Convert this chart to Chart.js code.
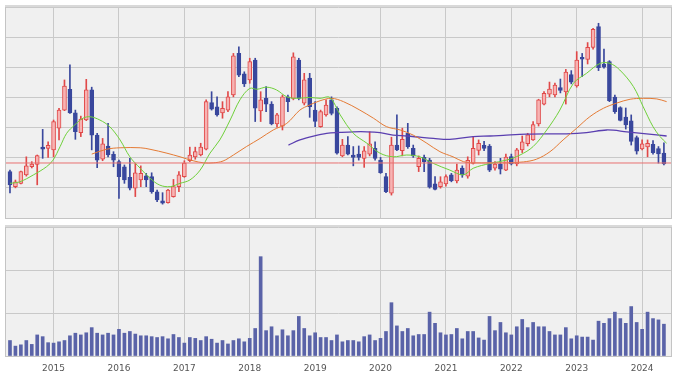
<!DOCTYPE html>
<html><head><meta charset="utf-8">
<script src="https://cdn.jsdelivr.net/npm/chart.js@4.4.1/dist/chart.umd.min.js"></script>
<style>
html,body{margin:0;padding:0;background:#fff;overflow:hidden;width:679px;height:376px}
#wrap{position:relative;width:679px;height:376px}
canvas{position:absolute;left:0}
</style></head><body>
<div id="wrap">
<canvas id="price" width="679" height="222" style="top:0;width:679px;height:222px"></canvas>
<canvas id="vol" width="679" height="154" style="top:222px;width:679px;height:154px"></canvas>
</div>
<script>
// Monthly candles, May 2014 .. May 2024
const startYear = 2014, startMonth = 5;
const opens = [154,104,115,143,170,178,235,231,226,298,358,427,349,283,325,425,275,195,239,211,
187,170,135,99,126,140,137,87,57,51,71,104,137,190,203,209,228,383,369,349,
358,408,546,478,458,524,355,397,378,312,305,402,397,524,381,464,358,303,342,392,
364,206,242,209,212,198,212,231,192,137,82,242,223,281,231,170,201,192,113,104,
113,143,123,166,139,181,224,241,239,165,179,159,204,179,226,247,259,312,378,411,
408,433,418,476,438,533,526,566,635,511,519,401,366,335,322,267,229,236,244,230,215];
const highs = [159,126,156,203,187,209,294,253,325,364,458,508,358,338,460,434,281,264,314,220,
192,176,198,182,173,148,150,93,84,95,128,154,190,235,235,248,392,419,402,386,
419,546,568,485,530,530,419,436,386,347,408,408,548,530,480,480,386,358,392,402,
369,261,270,237,239,237,286,253,201,148,268,342,298,314,242,206,209,198,137,137,
143,148,179,173,203,270,259,254,244,187,198,212,212,231,272,281,320,394,419,451,
448,461,493,489,552,546,582,629,646,560,522,408,369,365,342,272,259,259,257,237,249];
const lows = [83,100,113,139,166,110,198,201,203,259,356,347,261,270,323,226,167,190,203,170,
65,115,93,71,104,104,82,54,46,49,69,87,135,187,195,206,226,358,338,331,
353,402,469,436,447,320,320,353,309,301,292,353,392,392,375,334,303,301,338,342,
212,203,209,173,192,168,206,192,148,84,76,223,206,231,201,154,154,99,93,99,
106,120,116,135,132,179,209,223,154,159,146,157,176,173,217,239,257,305,375,402,
402,415,378,445,434,469,511,560,489,497,386,347,322,295,242,212,226,203,212,182,176];
const closes = [110,120,154,173,179,207,228,241,320,358,438,349,286,328,425,275,192,246,209,192,
137,126,99,150,148,126,87,60,49,93,104,143,182,209,220,235,386,361,342,364,
402,538,474,445,519,364,392,378,312,342,402,386,535,397,458,369,320,353,375,347,
215,242,212,201,201,223,246,198,150,87,242,226,261,237,206,198,187,102,95,120,
137,124,159,143,191,231,248,231,159,179,162,202,179,226,253,276,310,392,414,428,
441,423,484,451,524,527,566,626,499,500,389,353,324,309,254,222,246,248,217,213,179];
const volumes = [36,23,26,36,27,49,45,31,30,33,36,47,53,49,54,66,53,49,53,49,
62,53,57,51,47,47,45,43,45,40,50,43,30,43,41,36,45,39,30,36,
28,36,40,33,41,64,231,59,68,47,61,47,59,92,64,47,54,43,43,36,
49,33,36,36,33,45,49,36,41,57,124,70,57,64,47,50,50,102,76,54,
49,50,64,40,57,57,42,37,92,59,78,54,49,68,85,66,78,68,68,57,
49,49,66,40,47,44,44,37,81,76,87,102,87,76,115,78,62,102,87,84,74];
// moving average lines (x = month index)
const maShortX = [0,1.8,4.3,6.7,7.9,9.2,10.4,11.9,13.4,14.7,16.5,18.3,20.2,22,23.9,25.7,27.5,29.4,31.2,33,34.9,36.7,38.5,40.4,42.2,44,45.3,47.1,48.9,50.8,52.6,55,56.9,58.7,60.6,63,65.5,67.9,70.3,72.8,75.2,77.7,80.7,83.2,85,88.1,91.1,93.6,96,98.5,100.9,103.4,105.8,108.3,110.1,111.9,114.4,116.2,118,119.3,120.5];
const maShortY = [115,120,143,170,192,237,281,309,331,336,325,303,259,203,165,132,109,104,115,126,159,215,259,325,392,430,427,434,425,402,397,400,397,400,342,281,248,215,203,209,203,181,159,143,165,181,192,209,237,292,358,447,480,513,513,491,436,369,303,270,248];
const maMidX = [15,17.7,20.2,23.9,25.7,28.8,31.2,33.6,35.5,37.3,39.1,41,43.4,45.9,48.3,50.8,53.2,55,56.9,59,61.2,64.2,66.7,69.1,71.6,74,76.5,78.9,81.3,83.2,85,88.1,91.1,94.2,96.6,99.1,101.5,104,106.4,108.9,111.3,113.8,116.2,118.7,120.5];
const maMidY = [212,228,233,233,228,215,203,190,183,183,189,209,237,264,292,314,358,375,389,397,386,358,331,303,292,275,248,220,203,187,183,183,183,186,195,220,259,298,336,364,381,394,397,395,386];
const maLongX = [51.1,53.2,55.7,58.1,60.6,63,65.5,67.9,70.3,72.8,75.2,77.7,80.7,85,88.1,91.1,94.8,98.5,102.1,105.8,109.5,113.2,116.8,120.5];
const maLongY = [242,259,272,281,284,286,286,283,275,272,268,264,261,270,272,275,278,279,279,283,292,286,279,272];
const refLevel = 182.5;
const yearLabels = ['2015','2016','2017','2018','2019','2020','2021','2022','2023','2024'];

// month labels and year tick positions
const months = opens.map((_, i) => {
  const m = startMonth - 1 + i;
  return (startYear + Math.floor(m / 12)) + '-' + String(m % 12 + 1).padStart(2, '0');
});
const yearTickIdx = yearLabels.map(y => months.indexOf(y + '-01'));

const RED = '#e04848', PINK = '#f7b3b3', BLUE = '#39479d', VOL = '#5a63a8', GRID = '#c9c9c9';
const idx = opens.map((_, i) => i);
const isUp = i => closes[i] >= opens[i];
const XMIN = -0.73, XMAX = 121.3;

const panelPlugin = {
  id: 'panelPlugin',
  beforeDraw(chart) {
    const { ctx, chartArea: a } = chart;
    ctx.save();
    ctx.fillStyle = '#f0f0f0';
    ctx.fillRect(a.left, a.top, a.right - a.left, a.bottom - a.top);
    ctx.restore();
  },
  afterDraw(chart) {
    const { ctx, chartArea: a } = chart;
    ctx.save();
    ctx.strokeStyle = '#c4c4c4';
    ctx.lineWidth = 1;
    ctx.strokeRect(Math.round(a.left) - 0.5, Math.round(a.top) - 0.5, Math.round(a.right - a.left) + 1, Math.round(a.bottom - a.top) + 1);
    ctx.fillStyle = '#d9d9d9';
    ctx.fillRect(Math.round(a.left) - 1, Math.round(a.top) - 2, Math.round(a.right - a.left) + 2, 2);
    ctx.restore();
  }
};

function xScale(showLabels) {
  return {
    type: 'linear', min: XMIN, max: XMAX, offset: false,
    grid: { color: GRID, drawTicks: false, lineWidth: 1, offset: false },
    border: { display: false },
    afterBuildTicks: s => { s.ticks = yearTickIdx.map(v => ({ value: v })); },
    ticks: {
      display: showLabels, autoSkip: false, maxRotation: 0, padding: 7,
      color: '#555', font: { family: 'DejaVu Sans', size: 9 },
      callback: v => yearLabels[yearTickIdx.indexOf(v)]
    },
    afterFit: s => { s.height = showLabels ? 20 : 0; }
  };
}

new Chart(document.getElementById('price'), {
  type: 'bar',
  data: {
    datasets: [
      { type: 'line', data: [{ x: XMIN, y: refLevel }, { x: XMAX, y: refLevel }], borderColor: '#e87070', borderWidth: 1, pointRadius: 0, order: 0 },
      { type: 'line', data: maShortX.map((x, k) => ({ x, y: maShortY[k] })), borderColor: '#6fd03a', borderWidth: 1, pointRadius: 0, tension: 0.35, order: 0 },
      { type: 'line', data: maMidX.map((x, k) => ({ x, y: maMidY[k] })), borderColor: '#e57b35', borderWidth: 1, pointRadius: 0, tension: 0.35, order: 0 },
      { type: 'line', data: maLongX.map((x, k) => ({ x, y: maLongY[k] })), borderColor: '#5a3fb0', borderWidth: 1.3, pointRadius: 0, tension: 0.35, order: 0 },
      { data: idx.map(i => ({ x: i, y: [opens[i], closes[i]] })), barThickness: 4, grouped: false,
        backgroundColor: c => isUp(c.dataIndex) ? PINK : BLUE,
        borderColor: c => isUp(c.dataIndex) ? RED : BLUE,
        borderWidth: 1, borderSkipped: false, order: 1 },
      { data: idx.map(i => ({ x: i, y: [lows[i], highs[i]] })), barThickness: 1, grouped: false,
        backgroundColor: c => isUp(c.dataIndex) ? RED : BLUE, borderWidth: 0, order: 2 }
    ]
  },
  options: {
    responsive: false, animation: false, devicePixelRatio: 1,
    layout: { padding: { left: 6, right: 8, top: 7, bottom: 4 } },
    plugins: { legend: { display: false }, tooltip: { enabled: false } },
    scales: {
      x: xScale(false),
      y: { min: 0, max: 700, ticks: { stepSize: 100, display: false }, grid: { color: GRID, drawTicks: false },
           border: { display: false }, afterFit: s => { s.width = 0; } }
    }
  },
  plugins: [panelPlugin]
});

new Chart(document.getElementById('vol'), {
  type: 'bar',
  data: {
    datasets: [
      { data: idx.map(i => ({ x: i, y: volumes[i] })), barThickness: 3, backgroundColor: VOL, borderWidth: 0 }
    ]
  },
  options: {
    responsive: false, animation: false, devicePixelRatio: 1,
    layout: { padding: { left: 6, right: 8, top: 5, bottom: 0 } },
    plugins: { legend: { display: false }, tooltip: { enabled: false } },
    scales: {
      x: xScale(true),
      y: { min: 0, max: 300, ticks: { stepSize: 100, display: false }, grid: { color: GRID, drawTicks: false },
           border: { display: false }, afterFit: s => { s.width = 0; } }
    }
  },
  plugins: [panelPlugin]
});
</script>
</body></html>
